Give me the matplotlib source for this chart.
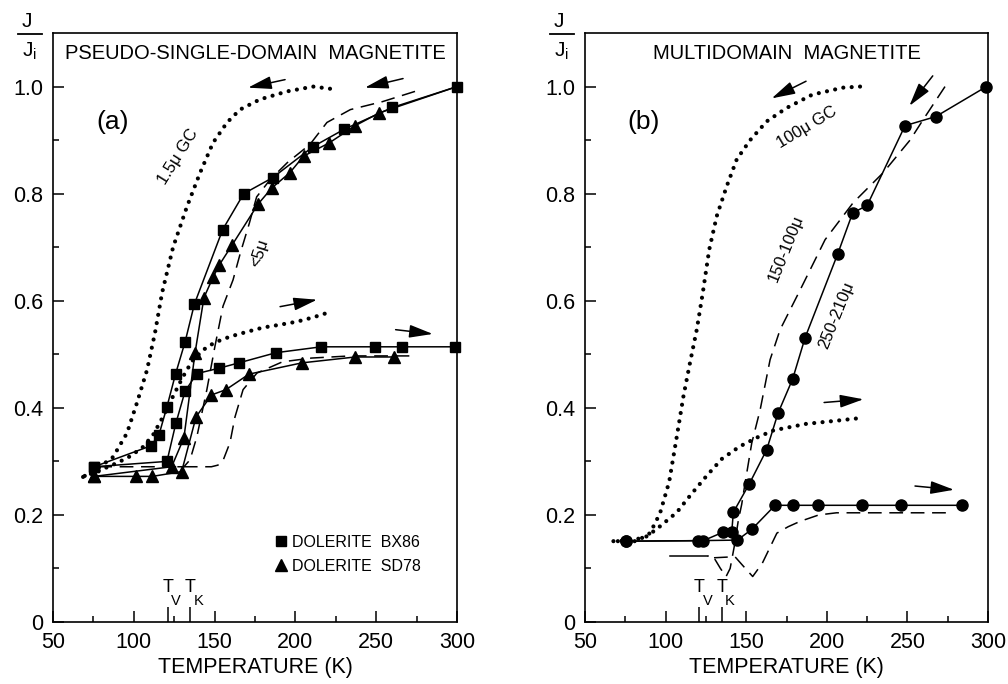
import matplotlib
matplotlib.use('Agg')
import matplotlib.pyplot as plt
from matplotlib.lines import Line2D
from matplotlib.ticker import FixedLocator

plt.rcParams['font.family'] = ['Liberation Sans', 'DejaVu Sans']

# ---------------- (a) pseudo-single-domain magnetite ----------------
# dolerite BX86 (squares)
bx86_cool_T = [300, 260, 230, 211, 186, 168, 155, 137.5, 131.7, 125.8, 120.5, 115.6, 110.5, 75.4]
bx86_cool_J = [1.0, 0.961, 0.92, 0.888, 0.83, 0.80, 0.733, 0.594, 0.523, 0.463, 0.402, 0.35, 0.329, 0.29]
bx86_warm_T = [75.4, 120.5, 126, 131.7, 139, 152.7, 165, 188, 216, 249, 266, 299]
bx86_warm_J = [0.29, 0.30, 0.371, 0.431, 0.464, 0.474, 0.484, 0.503, 0.514, 0.514, 0.514, 0.514]

# dolerite SD78 (triangles)
sd78_cool_T = [300, 252, 237, 221, 205, 196.5, 185.5, 177, 161, 152.9, 149.2, 143.4, 137.9, 131, 123.4, 75.4]
sd78_cool_J = [1.0, 0.951, 0.927, 0.895, 0.87, 0.839, 0.811, 0.781, 0.705, 0.667, 0.645, 0.606, 0.503, 0.344, 0.29, 0.272]
sd78_warm_T = [75.4, 101.4, 111.5, 129.6, 138.5, 148, 157, 171.3, 204, 237, 261]
sd78_warm_J = [0.272, 0.272, 0.272, 0.281, 0.383, 0.424, 0.434, 0.463, 0.484, 0.495, 0.495]

# <5 micron (dashed)
fine_cool_T = [274, 254, 234, 219.5, 209, 195, 184.3, 176, 171.5, 166, 161.4, 155.2, 150.2, 145.2, 139, 134.8, 131, 126]
fine_cool_J = [0.991, 0.972, 0.957, 0.933, 0.892, 0.858, 0.826, 0.794, 0.745, 0.69, 0.639, 0.59, 0.515, 0.434, 0.346, 0.303, 0.29, 0.29]
fine_warm_T = [78, 100, 130, 148, 152, 155, 159.5, 162.6, 167.6, 176.2, 192, 210, 234, 273]
fine_warm_J = [0.29, 0.29, 0.29, 0.29, 0.293, 0.30, 0.335, 0.383, 0.434, 0.465, 0.486, 0.493, 0.497, 0.497]

# 1.5 micron GC (dotted)
gc15_cool_T = [221.4, 211, 194.8, 178, 165.7, 157.7, 149, 141, 132.9, 124.3, 117.5, 113.1, 108.2, 101.9, 95.8, 87.1, 79, 68.6]
gc15_cool_J = [0.996, 1.0, 0.991, 0.976, 0.957, 0.933, 0.895, 0.839, 0.776, 0.70, 0.615, 0.54, 0.471, 0.409, 0.353, 0.308, 0.29, 0.271]
gc15_warm_T = [68.6, 78, 89.6, 98, 105.7, 112, 118, 124, 130.4, 136, 142.8, 150, 159.5, 170, 180, 190, 201, 211, 221.4]
gc15_warm_J = [0.271, 0.282, 0.297, 0.31, 0.327, 0.35, 0.383, 0.42, 0.458, 0.487, 0.508, 0.522, 0.533, 0.542, 0.55, 0.555, 0.561, 0.569, 0.579]

# ---------------- (b) multidomain magnetite ----------------
# 250-210 micron (circles)
md_cool_T = [299, 267.6, 248.5, 225, 216, 206.8, 186.5, 178.8, 169.7, 162.7, 151.9, 142, 141, 135.8, 123.4, 75.2]
md_cool_J = [1.0, 0.944, 0.927, 0.778, 0.764, 0.688, 0.531, 0.454, 0.39, 0.322, 0.258, 0.205, 0.168, 0.168, 0.152, 0.151]
md_warm_T = [75.2, 120.3, 144.5, 153.4, 167.9, 178.8, 194.7, 221.8, 246, 284]
md_warm_J = [0.151, 0.152, 0.153, 0.173, 0.218, 0.218, 0.218, 0.218, 0.218, 0.218]

# 150-100 micron (dashed)
mid_cool_T = [273.3, 259.7, 251.6, 234.9, 216.3, 198.9, 183.4, 171, 164.8, 158.6, 153.4, 149.3, 147.2, 145.1, 142.5, 140, 137.5, 134, 130, 126]
mid_cool_J = [1.0, 0.938, 0.9, 0.839, 0.783, 0.714, 0.62, 0.546, 0.49, 0.396, 0.334, 0.26, 0.22, 0.19, 0.14, 0.10, 0.085, 0.10, 0.12, 0.123]
mid_flat_T = [103, 126]
mid_flat_J = [0.123, 0.123]
mid_warm_T = [130, 143, 148, 154, 160, 169, 176, 183.4, 195, 206, 274.4]
mid_warm_J = [0.12, 0.122, 0.105, 0.085, 0.11, 0.166, 0.178, 0.188, 0.20, 0.204, 0.204]

# 100 micron GC (dotted)
gc100_cool_T = [220.6, 210, 191, 175, 162.7, 152.4, 144.1, 137.9, 131.7, 127, 123, 119.3, 115.1, 111, 106.9, 102.2, 96.5, 90.3, 82, 67.6]
gc100_cool_J = [1.0, 0.998, 0.985, 0.96, 0.935, 0.9, 0.864, 0.814, 0.758, 0.695, 0.614, 0.546, 0.484, 0.421, 0.346, 0.262, 0.203, 0.166, 0.151, 0.151]
gc100_warm_T = [67.6, 80, 88.3, 95, 101, 107, 113, 119, 126, 135, 146, 157, 167, 187, 206, 221]
gc100_warm_J = [0.151, 0.153, 0.16, 0.175, 0.19, 0.205, 0.228, 0.25, 0.275, 0.305, 0.328, 0.345, 0.358, 0.37, 0.376, 0.381]

# Verwey and isotropic points
T_V = 121
T_K = 135

y_ticks = [0, 0.2, 0.4, 0.6, 0.8, 1.0]
y_labels = ['0', '0.2', '0.4', '0.6', '0.8', '1.0']
x_ticks = [50, 100, 150, 200, 250, 300]

solid = dict(color='k', lw=1.1, clip_on=False)
dashed = dict(color='k', lw=1.1, ls=(0, (9, 5)), clip_on=False)
dotted = dict(color='k', lw=3.0, ls=(0, (0.01, 2.0)), dash_capstyle='round', clip_on=False)


def style_axes(ax):
    ax.set_xlim(50, 300)
    ax.set_ylim(0, 1.1)
    ax.xaxis.set_major_locator(FixedLocator(x_ticks))
    ax.xaxis.set_minor_locator(FixedLocator([75, 125, 175, 225, 275]))
    ax.yaxis.set_major_locator(FixedLocator(y_ticks))
    ax.yaxis.set_minor_locator(FixedLocator([0.1, 0.3, 0.5, 0.7, 0.9]))
    ax.set_yticklabels(y_labels)
    ax.tick_params(which='both', direction='in', width=1.1, labelsize=15.5)
    ax.tick_params(which='major', length=8, pad=7)
    ax.tick_params(which='minor', length=4)
    for s in ax.spines.values():
        s.set_linewidth(1.2)
    ax.set_xlabel('TEMPERATURE (K)', fontsize=15.5, labelpad=3)

    # J / Ji label
    ax.text(-0.064, 1.019, 'J', transform=ax.transAxes, ha='center', va='center', fontsize=15)
    ax.text(-0.058, 0.970, r'J$_{\mathregular{i}}$', transform=ax.transAxes, ha='center', va='center', fontsize=15)
    ax.add_line(Line2D([-0.086, -0.028], [0.998, 0.998], transform=ax.transAxes, color='k', lw=1.3, clip_on=False))

    # Tv, Tk markers
    ax.vlines([T_V, T_K], 0, 0.028, color='k', lw=1.1)
    for t, sub in [(T_V, 'V'), (T_K, 'K')]:
        ax.text(t, 0.064, 'T', ha='center', va='center', fontsize=13)
        ax.text(t + 5, 0.039, sub, ha='center', va='center', fontsize=10.5)


def arrow(ax, tail, head):
    ax.annotate('', xy=head, xytext=tail,
                arrowprops=dict(arrowstyle='-|>,head_length=0.8,head_width=0.22',
                                color='k', lw=1.1, mutation_scale=18, shrinkA=0, shrinkB=0))


fig = plt.figure(figsize=(10.08, 6.84), dpi=100)
ax1 = fig.add_axes([0.0526, 0.0906, 0.4008, 0.8611])
ax2 = fig.add_axes([0.5804, 0.0906, 0.3998, 0.8611])

# ---- panel (a)
ax1.plot(gc15_cool_T, gc15_cool_J, **dotted)
ax1.plot(gc15_warm_T, gc15_warm_J, **dotted)
ax1.plot(fine_cool_T, fine_cool_J, **dashed)
ax1.plot(fine_warm_T, fine_warm_J, **dashed)
ax1.plot(sd78_cool_T, sd78_cool_J, marker='^', ms=8, markevery=slice(1, None), **solid)
ax1.plot(sd78_warm_T, sd78_warm_J, marker='^', ms=8, **solid)
ax1.plot(bx86_cool_T, bx86_cool_J, marker='s', ms=7, **solid)
ax1.plot(bx86_warm_T, bx86_warm_J, marker='s', ms=7, **solid)

style_axes(ax1)
ax1.text(0.5, 0.966, 'PSEUDO-SINGLE-DOMAIN  MAGNETITE', transform=ax1.transAxes,
         ha='center', va='center', fontsize=14.5)
ax1.text(87, 0.933, '(a)', ha='center', va='center', fontsize=19)
ax1.text(127.4, 0.869, '1.5\u03bc GC', rotation=58, ha='center', va='center', fontsize=12)
ax1.text(177.5, 0.69, '<5\u03bc', rotation=72, ha='center', va='center', fontsize=12)

arrow(ax1, (193.6, 1.013), (170.7, 0.998))
arrow(ax1, (266.6, 1.015), (243, 0.998))
arrow(ax1, (190.5, 0.589), (213.4, 0.602))
arrow(ax1, (262, 0.546), (285, 0.538))

handles = [Line2D([], [], marker='s', ls='none', color='k', ms=7),
           Line2D([], [], marker='^', ls='none', color='k', ms=8)]
ax1.legend(handles, ['DOLERITE  BX86', 'DOLERITE  SD78'], loc='center left',
           bbox_to_anchor=(0.548, 0.115), frameon=False, fontsize=11.5,
           handlelength=0.8, handletextpad=0.3, labelspacing=0.55, borderpad=0, borderaxespad=0)

# ---- panel (b)
ax2.plot(gc100_cool_T, gc100_cool_J, **dotted)
ax2.plot(gc100_warm_T, gc100_warm_J, **dotted)
ax2.plot(mid_cool_T, mid_cool_J, **dashed)
ax2.plot(mid_flat_T, mid_flat_J, **solid)
ax2.plot(mid_warm_T, mid_warm_J, **dashed)
ax2.plot(md_cool_T, md_cool_J, marker='o', ms=8, **solid)
ax2.plot(md_warm_T, md_warm_J, marker='o', ms=8, **solid)

style_axes(ax2)
ax2.text(0.501, 0.966, 'MULTIDOMAIN  MAGNETITE', transform=ax2.transAxes,
         ha='center', va='center', fontsize=14.5)
ax2.text(86, 0.933, '(b)', ha='center', va='center', fontsize=19)
ax2.text(187.7, 0.923, '100\u03bc GC', rotation=31, ha='center', va='center', fontsize=12)
ax2.text(174.7, 0.697, '150-100\u03bc', rotation=68, ha='center', va='center', fontsize=12)
ax2.text(205.7, 0.572, '250-210\u03bc', rotation=68, ha='center', va='center', fontsize=12)

arrow(ax2, (187.1, 1.01), (165.8, 0.978))
arrow(ax2, (265.7, 1.02), (251.2, 0.964))
arrow(ax2, (198.3, 0.41), (222.7, 0.416))
arrow(ax2, (254.7, 0.254), (278.9, 0.247))

fig.savefig('out.png', dpi=100)
